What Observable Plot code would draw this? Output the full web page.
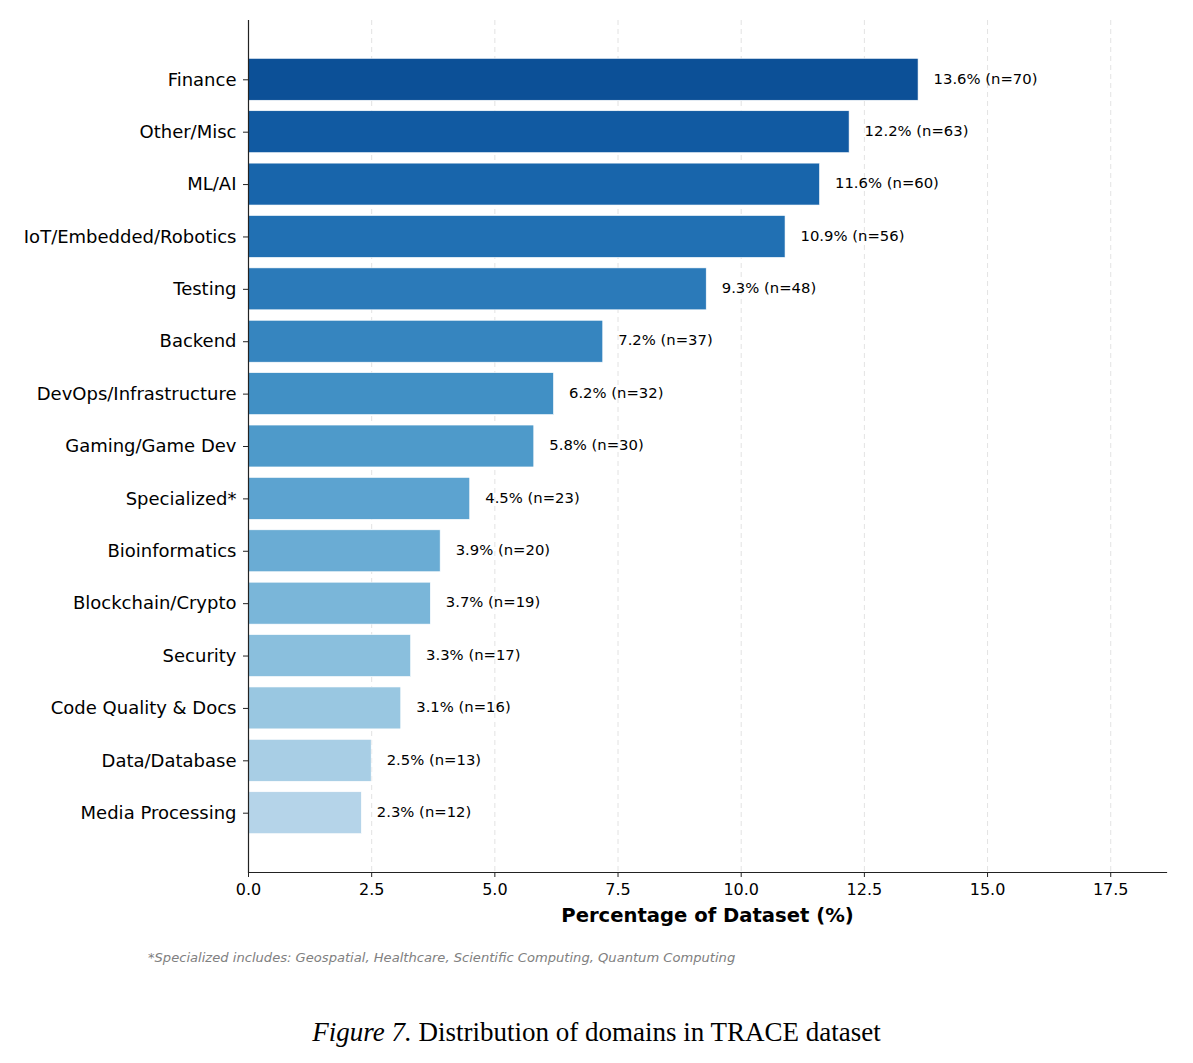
<!DOCTYPE html>
<html>
<head>
<meta charset="utf-8">
<script src="https://cdn.jsdelivr.net/npm/d3@7"></script>
<script src="https://cdn.jsdelivr.net/npm/@observablehq/plot@0.6"></script>
<style>
  body { margin: 0; background: #fff; width: 1193px; height: 1063px; position: relative; overflow: hidden; }
  #chart { position: absolute; left: 0; top: 0; }
  #note { position: absolute; left: 148px; top: 950px; font-family: "DejaVu Sans", sans-serif; font-style: italic; font-size: 13.1px; color: #808080; white-space: nowrap; }
  #caption { position: absolute; left: 0; width: 1193px; top: 1017px; text-align: center; font-family: "Liberation Serif", "Times New Roman", serif; font-size: 27px; color: #000; white-space: nowrap; }
</style>
</head>
<body>
<div id="chart"></div>
<div id="note">*Specialized includes: Geospatial, Healthcare, Scientific Computing, Quantum Computing</div>
<div id="caption"><i>Figure 7.</i> Distribution of domains in TRACE dataset</div>
<script>
// Domain categories, sorted by share of the dataset
const domains = [
  "Finance", "Other/Misc", "ML/AI", "IoT/Embedded/Robotics", "Testing",
  "Backend", "DevOps/Infrastructure", "Gaming/Game Dev", "Specialized*",
  "Bioinformatics", "Blockchain/Crypto", "Security", "Code Quality & Docs",
  "Data/Database", "Media Processing"
];
const percents = [13.6, 12.2, 11.6, 10.9, 9.3, 7.2, 6.2, 5.8, 4.5, 3.9, 3.7, 3.3, 3.1, 2.5, 2.3];
const counts = [70, 63, 60, 56, 48, 37, 32, 30, 23, 20, 19, 17, 16, 13, 12];
const xTicks = [0, 2.5, 5, 7.5, 10, 12.5, 15, 17.5];
const gridTicks = [2.5, 5, 7.5, 10, 12.5, 15, 17.5];

const rows = domains.map((d, i) => ({
  domain: d,
  pct: percents[i],
  n: counts[i],
  rank: i
}));

// Shade from dark to light blue by rank
const shade = i => d3.interpolateBlues(0.88 - 0.58 * i / (domains.length - 1));
const xMax = percents[0] * 1.37;

const chart = Plot.plot({
  width: 1193,
  height: 930,
  marginTop: 20,
  marginBottom: 58,
  marginLeft: 248,
  marginRight: 27,
  style: { fontFamily: "DejaVu Sans, sans-serif", color: "#000", background: "#fff" },
  x: { domain: [0, xMax], label: null },
  y: { domain: domains, paddingInner: 0.2, paddingOuter: 0.732, align: 0.5, round: false, label: null },
  marks: [
    Plot.ruleX(gridTicks, { stroke: "#e3e3e3", strokeWidth: 1, strokeDasharray: "5,4" }),
    Plot.barX(rows, {
      y: "domain", x: "pct",
      fill: d => shade(d.rank),
      stroke: "#ffffff", strokeWidth: 0.6
    }),
    Plot.text(rows, {
      y: "domain", x: "pct",
      text: d => `${d.pct.toFixed(1)}% (n=${d.n})`,
      dx: 15, dy: -1, textAnchor: "start", fontSize: 14.8, fill: "#000"
    }),
    Plot.axisY({ fontSize: 18, tickSize: 5, tickPadding: 7, stroke: "#222", label: null }),
    Plot.axisX({ ticks: xTicks, tickFormat: d3.format(".1f"), fontSize: 16, tickSize: 5, tickPadding: 6, stroke: "#222", label: null }),
    Plot.ruleX([0], { stroke: "#222", strokeWidth: 1.2 }),
    Plot.frame({ anchor: "bottom", stroke: "#222", strokeWidth: 1.2 }),
    Plot.text(["Percentage of Dataset (%)"], {
      frameAnchor: "bottom", dy: 43, lineAnchor: "middle",
      fontSize: 19.6, fontWeight: "bold", fill: "#000"
    })
  ]
});
document.getElementById("chart").appendChild(chart);
</script>
</body>
</html>
